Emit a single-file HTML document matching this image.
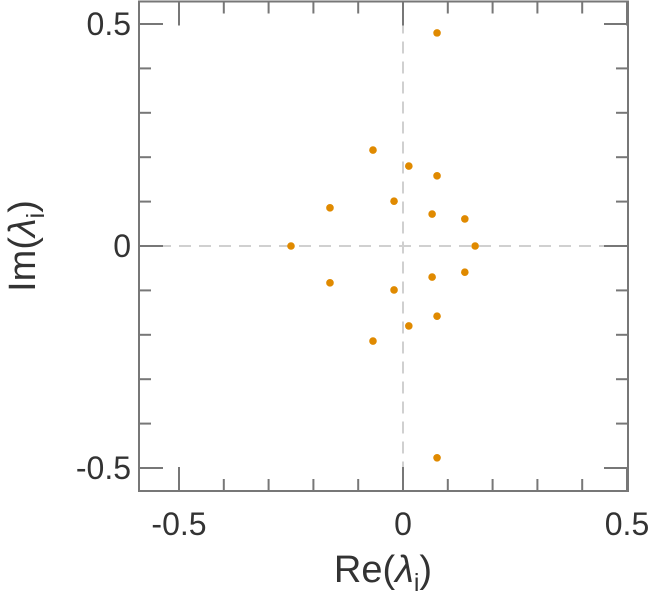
<!DOCTYPE html>
<html><head><meta charset="utf-8"><style>
body{margin:0;background:#fff;}
svg{display:block;font-family:"Liberation Sans",sans-serif;}
</style></head><body>
<svg id="c" width="651" height="600"></svg>
<script>
const reVals=[0.076,-0.067,0.013,0.076,-0.163,-0.020,0.065,0.138,-0.25,0.161,0.076,-0.067,0.013,0.076,-0.163,-0.020,0.065,0.138];
const imVals=[0.48,0.216,0.18,0.158,0.086,0.101,0.072,0.061,0,0,-0.477,-0.214,-0.18,-0.158,-0.083,-0.099,-0.07,-0.059];
const xTicks=[-0.5,0,0.5];
const yTicks=[-0.5,0,0.5];
const xTickLabels=["-0.5","0","0.5"];
const yTickLabels=["-0.5","0","0.5"];
const L=139,R=628,T=1.5,B=491;
const sx=v=>403+v*448, sy=v=>246-v*444;
const ns="http://www.w3.org/2000/svg";
const svg=document.getElementById('c');
function mk(t,a){const e=document.createElementNS(ns,t);for(const k in a)e.setAttribute(k,a[k]);svg.appendChild(e);return e;}
let e;
e=mk('line',{x1:sx(0),x2:sx(0),y1:T,y2:B,stroke:'#d0d0d0','stroke-width':2,'stroke-dasharray':'12,8'});


e=mk('line',{x1:L,x2:R,y1:sy(0),y2:sy(0),stroke:'#d0d0d0','stroke-width':2,'stroke-dasharray':'12,8'});


for(let i=-6;i<=5;i++){const v=i/10;const x=sx(v);if(x<L||x>R)continue;const len=(i%5===0)?24:12;
 e=mk('line',{x1:x,x2:x,y1:B,y2:B-len,stroke:'#777','stroke-width':2});
 
 
 e=mk('line',{x1:x,x2:x,y1:T,y2:T+len,stroke:'#777','stroke-width':2});
 
 }
for(let i=-5;i<=5;i++){const v=i/10;const y=sy(v);const len=(i%5===0)?24:12;
 e=mk('line',{x1:L,x2:L+len,y1:y,y2:y,stroke:'#777','stroke-width':2});
 
 
 e=mk('line',{x1:R,x2:R-len,y1:y,y2:y,stroke:'#777','stroke-width':2});
 
 }
e=mk('rect',{x:L,y:T,width:R-L,height:B-T,fill:'none',stroke:'#777','stroke-width':2});


xTicks.forEach((v,i)=>{e=mk('text',{x:sx(v),y:535,'text-anchor':'middle','font-size':32,fill:'#333'});e.textContent=xTickLabels[i];
 
 });
yTicks.forEach((v,i)=>{e=mk('text',{x:131,y:sy(v)+11,'text-anchor':'end','font-size':32,fill:'#333'});e.textContent=yTickLabels[i];
 
 });
reVals.forEach((r,i)=>{e=mk('circle',{cx:sx(r),cy:sy(imVals[i]),r:3.8,fill:'#e08a00'});
 
 });
e=mk('text',{x:383,y:582,'text-anchor':'middle','font-size':38,fill:'#333'});
e.innerHTML='Re(<tspan font-style="italic">λ</tspan><tspan font-size="25" dy="9">i</tspan><tspan dy="-9">)</tspan>';


e=mk('text',{x:0,y:0,'text-anchor':'middle','font-size':38,fill:'#333',transform:'translate(35,246) rotate(-90)'});
e.innerHTML='Im(<tspan font-style="italic">λ</tspan><tspan font-size="25" dy="9">i</tspan><tspan dy="-9">)</tspan>';


</script>
</body></html>
